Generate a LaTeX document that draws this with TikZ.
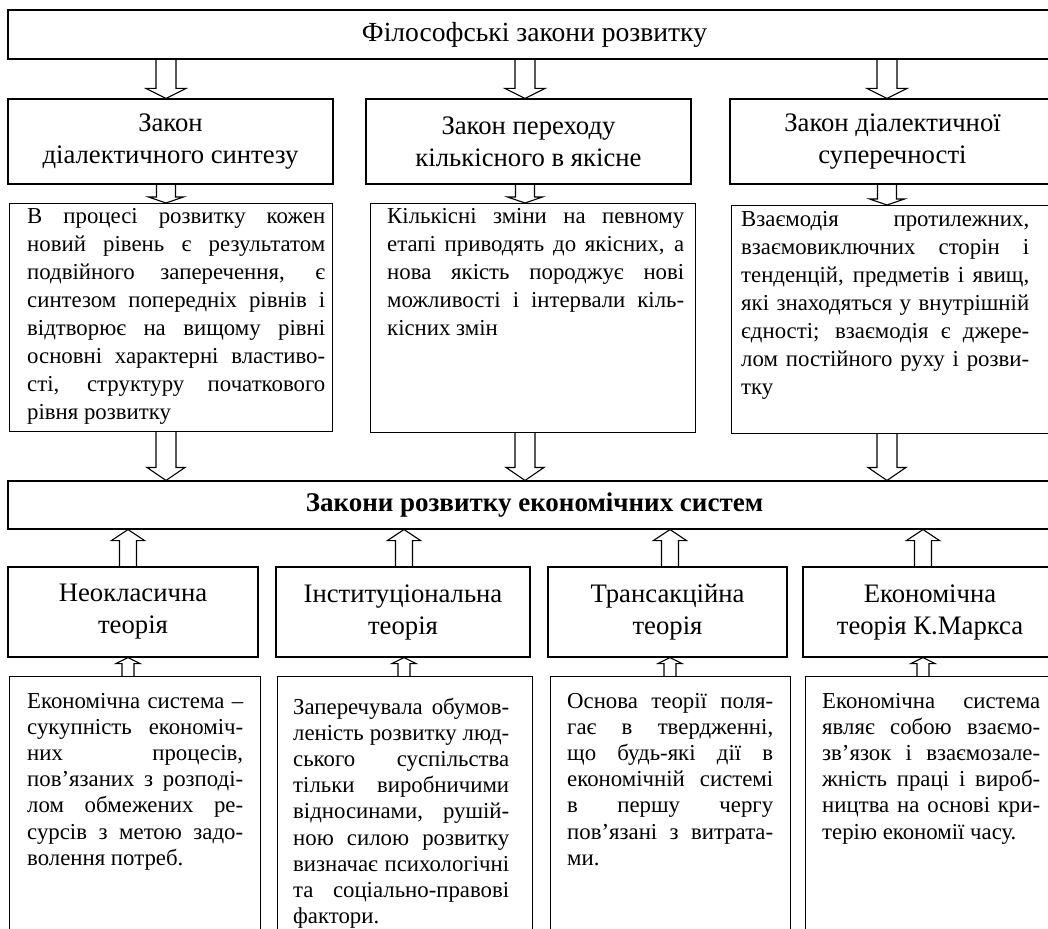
\documentclass[tikz,border=0pt]{standalone}
\usepackage{fontspec}
\setmainfont{Liberation Serif}
\usepackage{tikz}
\usetikzlibrary{calc}
\hyphenpenalty=10000
\exhyphenpenalty=10000

\tikzset{
  frame/.style={draw, line width=1.1pt, inner sep=0pt},
  headbox/.style={frame, align=center, font=\fontsize{26.7}{32}\selectfont},
  bodytext/.style={inner sep=0pt, anchor=base west, align=justify,
    font=\fontsize{22.8}{28}\selectfont,
    execute at begin node={\tolerance=10000\hbadness=10000}},
  lowtext/.style={bodytext, font=\fontsize{22.8}{26.2}\selectfont},
  arrowline/.style={line width=1.1pt, line join=miter},
}

% hollow block arrow: start, end, shaft half width, head half width, head length
\newcommand{\blockarrow}[5]{%
  \draw[arrowline] let \p1=#1, \p2=#2, \n1={sign((\y2)-(\y1))*#5} in
    ({\x1-#3pt},\y1) -- ({\x1-#3pt},{(\y2)-(\n1)*1pt}) -- ({\x1-#4pt},{(\y2)-(\n1)*1pt})
    -- (\x1,\y2) -- ({\x1+#4pt},{(\y2)-(\n1)*1pt}) -- ({\x1+#3pt},{(\y2)-(\n1)*1pt})
    -- ({\x1+#3pt},\y1);}

\begin{document}
\begin{tikzpicture}[x=1pt, y=-1pt]

\useasboundingbox (0,0) rectangle (1048,928);
\clip (0,0) rectangle (1048,928);
%\draw [help lines, step=50](0,0) grid (1048,928);

\coordinate (a1) at (166,0);
\coordinate (a2) at (525,0);
\coordinate (a3) at (887,0);
\coordinate (b1) at (128,0);
\coordinate (b2) at (404,0);
\coordinate (b3) at (670,0);
\coordinate (b4) at (923,0);

\node[headbox, font=\fontsize{27.6}{32}\selectfont, minimum width=1053, minimum height=49] (phil) at (534.5,34.5) {Філософські закони розвитку};

\node[headbox, minimum width=325, minimum height=85] (h1) at (170.5,141.5) {Закон\\діалектичного синтезу};
\node[headbox, minimum width=325, minimum height=85] (h2) at (528.5,141.5) {Закон переходу\\кількісного в якісне};
\node[headbox, minimum width=325, minimum height=85] (h3) at (892.5,141.5) {Закон діалектичної\\суперечності};

\node[frame, anchor=north west, minimum width=323, minimum height=228] (d1) at (9,203) {};
\node[frame, anchor=north west, minimum width=325, minimum height=229] (d2) at (370,203) {};
\node[frame, anchor=north west, minimum width=325, minimum height=228] (d3) at (731,205) {};

\node[bodytext, text width=298] (d1t) at (27,223) {В процесі розвитку кожен\linebreak новий рівень є результатом\linebreak подвійного заперечення, є\linebreak синтезом попередніх рівнів і\linebreak відтворює на вищому рівні\linebreak основні характерні властиво-\linebreak сті, структуру початкового\linebreak рівня розвитку};
\node[bodytext, text width=297] (d2t) at (387,223) {Кількісні зміни на певному\linebreak етапі приводять до якісних, а\linebreak нова якість породжує нові\linebreak можливості і інтервали кіль-\linebreak кісних змін};
\node[bodytext, text width=288] (d3t) at (741,226) {Взаємодія протилежних,\linebreak взаємовиключних сторін і\linebreak тенденцій, предметів і явищ,\linebreak які знаходяться у внутрішній\linebreak єдності; взаємодія є джере-\linebreak лом постійного руху і розви-\linebreak тку};

\node[headbox, font=\bfseries\fontsize{27}{32}\selectfont, minimum width=1053, minimum height=48] (econ) at (534.5,505) {Закони розвитку економічних систем};

\node[headbox, minimum width=250, minimum height=90] (t1) at (133,612) {Неокласична\\теорія};
\node[headbox, minimum width=254, minimum height=90] (t2) at (403,612) {Інституціональна\\теорія};
\node[headbox, minimum width=239, minimum height=90] (t3) at (667.5,612) {Трансакційна\\теорія};
\node[headbox, minimum width=254, minimum height=90] (t4) at (930,612) {Економічна\\теорія К.Маркса};

\node[frame, anchor=north west, minimum width=251, minimum height=270] (e1) at (9,676) {};
\node[frame, anchor=north west, minimum width=255, minimum height=270] (e2) at (277,676) {};
\node[frame, anchor=north west, minimum width=240, minimum height=270] (e3) at (550,676) {};
\node[frame, anchor=north west, minimum width=255, minimum height=270] (e4) at (805,676) {};

\node[lowtext, text width=216] (e1t) at (27,708) {Економічна система –\linebreak сукупність економіч-\linebreak них процесів,\linebreak пов’язаних з розподі-\linebreak лом обмежених ре-\linebreak сурсів з метою задо-\linebreak волення потреб.};
\node[lowtext, text width=216] (e2t) at (293,714) {Заперечувала обумов-\linebreak леність розвитку люд-\linebreak ського суспільства\linebreak тільки виробничими\linebreak відносинами, рушій-\linebreak ною силою розвитку\linebreak визначає психологічні\linebreak та соціально-правові\linebreak фактори.};
\node[lowtext, text width=206] (e3t) at (567,708) {Основа теорії поля-\linebreak гає в твердженні,\linebreak що будь-які дії в\linebreak економічній системі\linebreak в першу чергу\linebreak пов’язані з витрата-\linebreak ми.};
\node[lowtext, text width=218] (e4t) at (822,708) {Економічна система\linebreak являє собою взаємо-\linebreak зв’язок і взаємозале-\linebreak жність праці і вироб-\linebreak ництва на основі кри-\linebreak терію економії часу.};

\blockarrow{(phil.south -| a1)}{(h1.north -| a1)}{10}{20}{10}
\blockarrow{(phil.south -| a2)}{(h2.north -| a2)}{10}{20}{10}
\blockarrow{(phil.south -| a3)}{(h3.north -| a3)}{10}{20}{10}

\blockarrow{(h1.south -| a1)}{(d1.north -| a1)}{9.5}{17.5}{6}
\blockarrow{(h2.south -| a2)}{(d2.north -| a2)}{9.5}{17.5}{6}
\blockarrow{(h3.south -| a3)}{(d3.north -| a3)}{9.5}{17.5}{6}

\blockarrow{(d1.south -| a1)}{(econ.north -| a1)}{10}{19}{13}
\blockarrow{(d2.south -| a2)}{(econ.north -| a2)}{10}{19}{13}
\blockarrow{(d3.south -| a3)}{(econ.north -| a3)}{10}{19}{13}

\blockarrow{(t1.north -| b1)}{(econ.south -| b1)}{8.5}{16.5}{11}
\blockarrow{(t2.north -| b2)}{(econ.south -| b2)}{8.5}{16.5}{11}
\blockarrow{(t3.north -| b3)}{(econ.south -| b3)}{8.5}{16.5}{11}
\blockarrow{(t4.north -| b4)}{(econ.south -| b4)}{8.5}{16.5}{11}

\blockarrow{(e1.north -| b1)}{(t1.south -| b1)}{6}{12}{6}
\blockarrow{(e2.north -| b2)}{(t2.south -| b2)}{6}{12}{6}
\blockarrow{(e3.north -| b3)}{(t3.south -| b3)}{6}{12}{6}
\blockarrow{(e4.north -| b4)}{(t4.south -| b4)}{6}{12}{6}

\end{tikzpicture}
\end{document}
